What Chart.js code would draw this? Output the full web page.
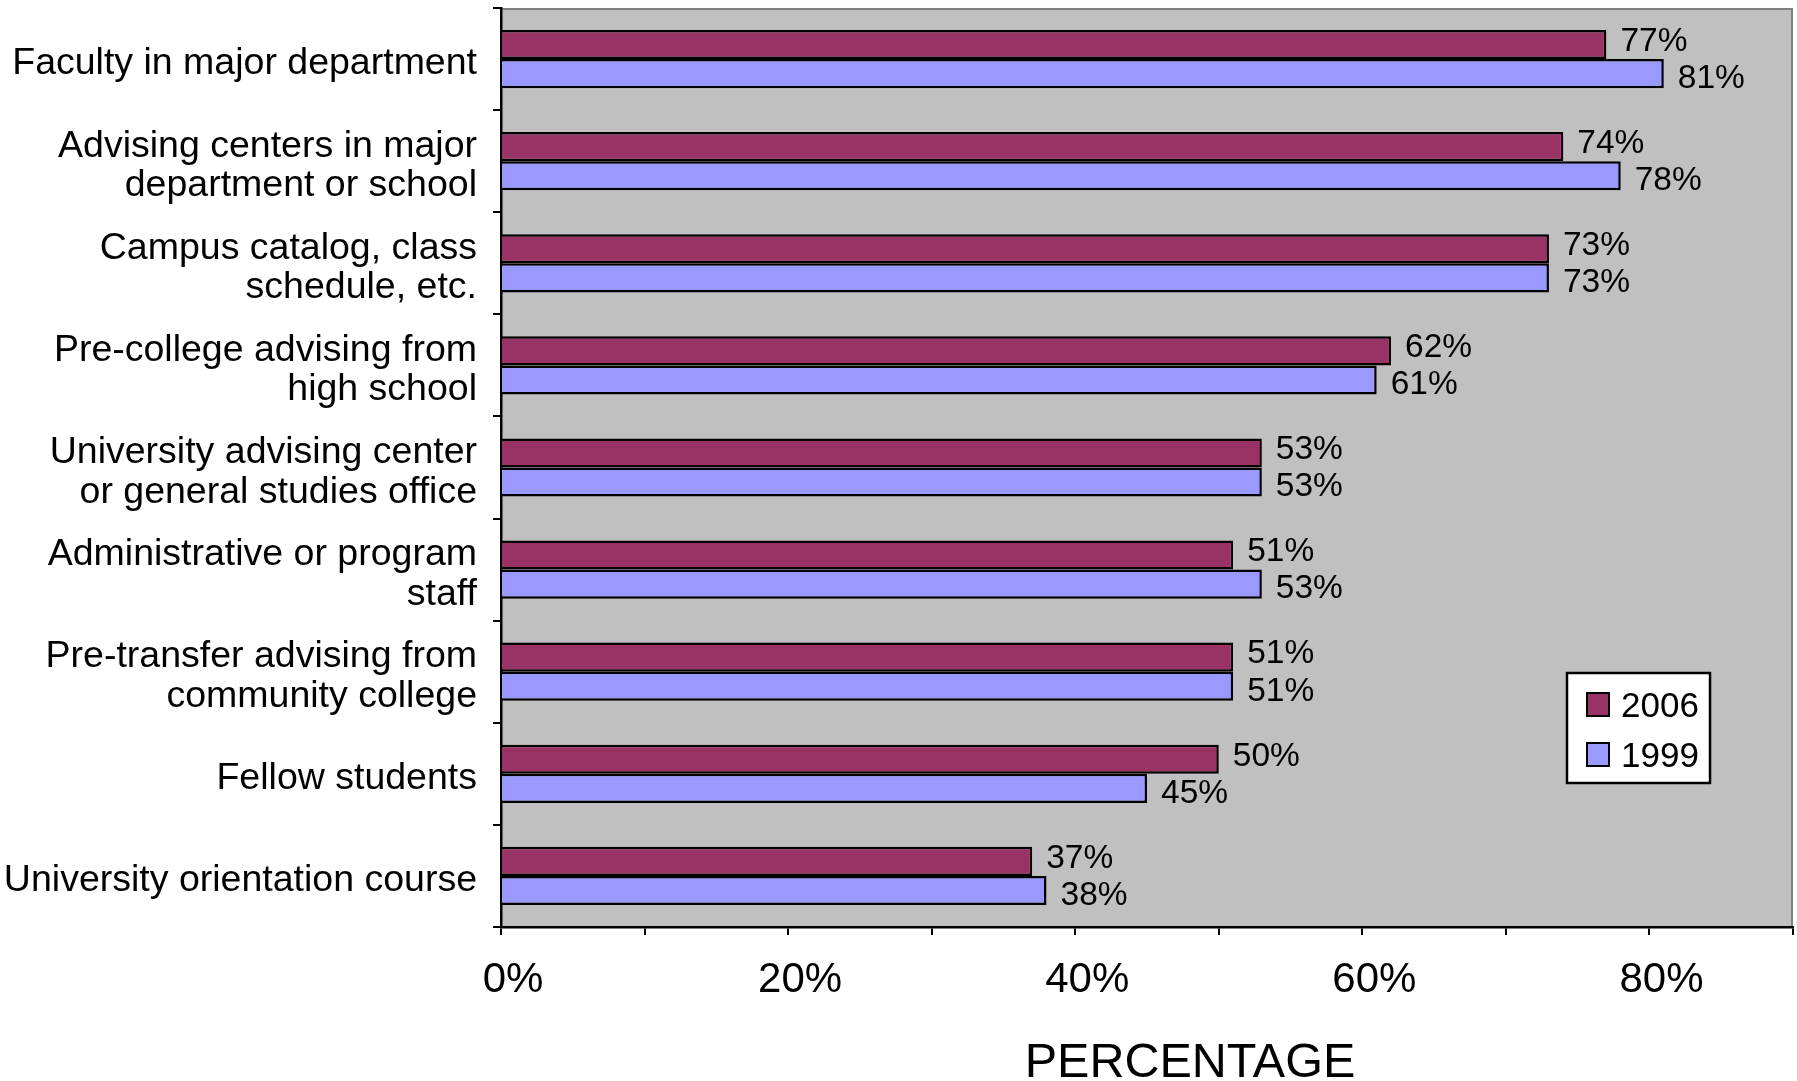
<!DOCTYPE html>
<html>
<head>
<meta charset="utf-8">
<script src="https://cdn.jsdelivr.net/npm/chart.js@4.4.1/dist/chart.umd.min.js"></script>
<style>
  html, body { margin: 0; padding: 0; background: #ffffff; }
  #wrap { width: 1797px; height: 1081px; }
</style>
</head>
<body>
<div id="wrap"><canvas id="chart" width="1797" height="1081"></canvas></div>
<script>
// Sources of advising, share of respondents (%)
const categories = [
  'Faculty in major department',
  ['Advising centers in major', 'department or school'],
  ['Campus catalog, class', 'schedule, etc.'],
  ['Pre-college advising from', 'high school'],
  ['University advising center', 'or general studies office'],
  ['Administrative or program', 'staff'],
  ['Pre-transfer advising from', 'community college'],
  'Fellow students',
  'University orientation course'
];
const values2006 = [77, 74, 73, 62, 53, 51, 51, 50, 37];
const values1999 = [81, 78, 73, 61, 53, 53, 51, 45, 38];
const seriesNames = ['2006', '1999'];
const labelledTicks = [0, 20, 40, 60, 80];
const axisTitle = 'PERCENTAGE';

const FONT = '"Liberation Sans", Arial, Helvetica, sans-serif';

// Grey plot area with a thin grey frame on the top and right sides
const plotBackground = {
  id: 'plotBackground',
  beforeDraw(chart) {
    const { ctx, chartArea: a } = chart;
    ctx.save();
    ctx.fillStyle = '#c0c0c0';
    ctx.fillRect(a.left, a.top, a.right - a.left, a.bottom - a.top);
    ctx.strokeStyle = '#808080';
    ctx.lineWidth = 2;
    ctx.beginPath();
    ctx.moveTo(a.left, a.top + 1);
    ctx.lineTo(a.right - 1, a.top + 1);
    ctx.lineTo(a.right - 1, a.bottom);
    ctx.stroke();
    ctx.restore();
  }
};

// Percentage printed just past the end of each bar
const valueLabels = {
  id: 'valueLabels',
  afterDatasetsDraw(chart) {
    const ctx = chart.ctx;
    ctx.save();
    ctx.font = '33.5px ' + FONT;
    ctx.fillStyle = '#000000';
    ctx.textAlign = 'left';
    ctx.textBaseline = 'middle';
    chart.data.datasets.forEach((ds, di) => {
      const meta = chart.getDatasetMeta(di);
      const dy = di === 0 ? -3 : 5;
      meta.data.forEach((bar, i) => {
        ctx.fillText(ds.data[i] + '%', bar.x + 14, bar.y + dy);
      });
    });
    ctx.restore();
  }
};

// Boxed legend sitting in the lower right of the plot area
const boxedLegend = {
  id: 'boxedLegend',
  afterDraw(chart) {
    const { ctx, chartArea: a } = chart;
    const w = 143, h = 110;
    const left = a.right - 83 - w;
    const top = a.bottom - 144 - h;
    ctx.save();
    ctx.fillStyle = '#ffffff';
    ctx.fillRect(left, top, w, h);
    ctx.strokeStyle = '#000000';
    ctx.lineWidth = 2.5;
    ctx.strokeRect(left, top, w, h);
    ctx.font = '35px ' + FONT;
    ctx.textAlign = 'left';
    ctx.textBaseline = 'alphabetic';
    chart.data.datasets.forEach((ds, i) => {
      const sy = top + 20 + i * 50;
      ctx.fillStyle = ds.backgroundColor;
      ctx.fillRect(left + 20, sy, 22, 23);
      ctx.lineWidth = 2;
      ctx.strokeStyle = '#000000';
      ctx.strokeRect(left + 20, sy, 22, 23);
      ctx.fillStyle = '#000000';
      ctx.fillText(ds.label, left + 54, top + 44 + i * 50);
    });
    ctx.restore();
  }
};

// Horizontal axis title
const axisTitlePlugin = {
  id: 'axisTitle',
  afterDraw(chart) {
    const { ctx, chartArea: a } = chart;
    ctx.save();
    ctx.font = '48.5px ' + FONT;
    ctx.fillStyle = '#000000';
    ctx.textAlign = 'center';
    ctx.textBaseline = 'alphabetic';
    ctx.fillText(axisTitle, (a.left + a.right) / 2 + 43, a.bottom + 150);
    ctx.restore();
  }
};

new Chart(document.getElementById('chart'), {
  type: 'bar',
  data: {
    labels: categories,
    datasets: [
      {
        label: seriesNames[0],
        data: values2006,
        backgroundColor: '#993366',
        borderColor: '#000000',
        borderWidth: 2.5,
        categoryPercentage: 0.57,
        barPercentage: 1.0
      },
      {
        label: seriesNames[1],
        data: values1999,
        backgroundColor: '#9999ff',
        borderColor: '#000000',
        borderWidth: 2.5,
        categoryPercentage: 0.57,
        barPercentage: 1.0
      }
    ]
  },
  options: {
    indexAxis: 'y',
    responsive: false,
    animation: false,
    events: [],
    layout: { padding: { top: 8, right: 4, left: 0, bottom: 0 } },
    plugins: {
      legend: { display: false },
      tooltip: { enabled: false },
      title: { display: false }
    },
    scales: {
      x: {
        type: 'linear',
        position: 'bottom',
        min: 0,
        max: 90,
        afterFit(scale) {
          scale.height = 154;
          scale.paddingLeft = 0;
          scale.paddingRight = 0;
        },
        grid: {
          display: true,
          drawOnChartArea: false,
          drawTicks: true,
          tickLength: 8,
          color: '#000000',
          lineWidth: 2
        },
        border: { display: true, color: '#000000', width: 2.5 },
        ticks: {
          stepSize: 10,
          autoSkip: false,
          maxRotation: 0,
          padding: 20,
          labelOffset: 12,
          color: '#000000',
          font: { family: FONT, size: 42 },
          callback: (v) => labelledTicks.includes(v) ? v + '%' : ''
        }
      },
      y: {
        type: 'category',
        position: 'left',
        afterFit(scale) {
          scale.width = 501;
          scale.paddingTop = 0;
          scale.paddingBottom = 0;
        },
        grid: {
          display: true,
          offset: true,
          drawOnChartArea: false,
          drawTicks: true,
          tickLength: 8,
          color: '#000000',
          lineWidth: 2
        },
        border: { display: true, color: '#000000', width: 2.5 },
        ticks: {
          autoSkip: false,
          padding: 16,
          labelOffset: 5,
          color: '#000000',
          font: { family: FONT, size: 37.5, lineHeight: 1.05 }
        }
      }
    }
  },
  plugins: [plotBackground, valueLabels, boxedLegend, axisTitlePlugin]
});
</script>
</body>
</html>
